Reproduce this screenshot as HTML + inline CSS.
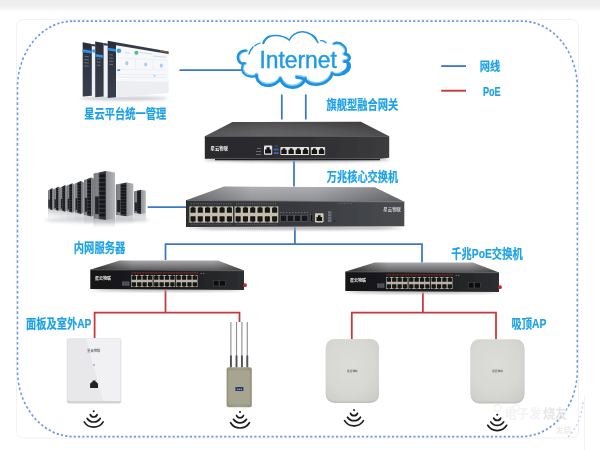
<!DOCTYPE html>
<html><head><meta charset="utf-8"><title>Network topology</title>
<style>
html,body{margin:0;padding:0;background:#fff;}
body{width:600px;height:450px;overflow:hidden;position:relative;font-family:"Liberation Sans",sans-serif;}
#top{position:absolute;left:0;top:0;width:600px;height:13px;background:linear-gradient(#eeeeee 0,#f0f0f0 50%,#fbfbfb 80%,#ffffff 100%);}
svg{position:absolute;left:0;top:0;}
</style></head><body>
<div id="top"></div>
<svg width="600" height="450" viewBox="0 0 600 450">

<defs>
<filter id="soft" x="-5%" y="-5%" width="110%" height="110%"><feGaussianBlur stdDeviation="0.55"/></filter>
<filter id="soft2" x="-5%" y="-5%" width="110%" height="110%"><feGaussianBlur stdDeviation="0.4"/></filter>
<filter id="sh" x="-20%" y="-50%" width="140%" height="200%"><feGaussianBlur stdDeviation="1.6"/></filter>
<linearGradient id="gwTop" x1="0" y1="0" x2="1" y2="0"><stop offset="0" stop-color="#48484a"/><stop offset="0.3" stop-color="#58585a"/><stop offset="0.6" stop-color="#525254"/><stop offset="1" stop-color="#3e3e40"/></linearGradient>
<linearGradient id="gwFront" x1="0" y1="0" x2="1" y2="0"><stop offset="0" stop-color="#2a2a2c"/><stop offset="0.55" stop-color="#2e2e30"/><stop offset="1" stop-color="#3c3c3e"/></linearGradient>
<linearGradient id="csTop" x1="0" y1="0" x2="1" y2="0"><stop offset="0" stop-color="#6a6c70"/><stop offset="0.3" stop-color="#a4a6a9"/><stop offset="0.6" stop-color="#a0a2a5"/><stop offset="1" stop-color="#686a6e"/></linearGradient>
<linearGradient id="csFront" x1="0" y1="0" x2="1" y2="0"><stop offset="0" stop-color="#2f3135"/><stop offset="0.5" stop-color="#37393d"/><stop offset="1" stop-color="#494b4f"/></linearGradient>
<linearGradient id="poeTop" x1="0" y1="0" x2="0" y2="1"><stop offset="0" stop-color="#a8a8aa"/><stop offset="1" stop-color="#58585a"/></linearGradient><linearGradient id="poeShade" x1="0" y1="0" x2="1" y2="0"><stop offset="0" stop-color="#000" stop-opacity="0.55"/><stop offset="0.28" stop-color="#000" stop-opacity="0"/><stop offset="0.8" stop-color="#000" stop-opacity="0"/><stop offset="1" stop-color="#000" stop-opacity="0.3"/></linearGradient><linearGradient id="vShade" x1="0" y1="0" x2="0" y2="1"><stop offset="0" stop-color="#fff" stop-opacity="0.12"/><stop offset="1" stop-color="#000" stop-opacity="0.12"/></linearGradient>
<linearGradient id="poeFront" x1="0" y1="0" x2="1" y2="0"><stop offset="0" stop-color="#151517"/><stop offset="0.6" stop-color="#1f2022"/><stop offset="1" stop-color="#2c2e30"/></linearGradient>
<linearGradient id="apG" x1="0" y1="0" x2="1" y2="1"><stop offset="0" stop-color="#ececea"/><stop offset="1" stop-color="#dededc"/></linearGradient>
<linearGradient id="panelG" x1="0" y1="0" x2="1" y2="1"><stop offset="0" stop-color="#fbfbfc"/><stop offset="1" stop-color="#ececf0"/></linearGradient>
<linearGradient id="srvF" x1="0" y1="0" x2="1" y2="0"><stop offset="0" stop-color="#74777b"/><stop offset="0.35" stop-color="#85878b"/><stop offset="0.5" stop-color="#3a3c40"/><stop offset="0.92" stop-color="#2e3034"/><stop offset="1" stop-color="#55575b"/></linearGradient>
<linearGradient id="srvS" x1="0" y1="0" x2="1" y2="0"><stop offset="0" stop-color="#909296"/><stop offset="1" stop-color="#b4b6b9"/></linearGradient>
<linearGradient id="odG" x1="0" y1="0" x2="1" y2="0"><stop offset="0" stop-color="#97957f"/><stop offset="0.5" stop-color="#a5a38e"/><stop offset="1" stop-color="#93917b"/></linearGradient>
<linearGradient id="dashSide" x1="0" y1="0" x2="0" y2="1"><stop offset="0" stop-color="#2a2e3a"/><stop offset="1" stop-color="#3a3f4c"/></linearGradient>
<radialGradient id="apR" cx="0.45" cy="0.42" r="0.75"><stop offset="0" stop-color="#dcdcd8"/><stop offset="0.6" stop-color="#d7d7d3"/><stop offset="1" stop-color="#cbcbc7"/></radialGradient>
<linearGradient id="srvS2" x1="0" y1="0" x2="1" y2="0"><stop offset="0" stop-color="#606266"/><stop offset="1" stop-color="#a2a4a7"/></linearGradient>
<linearGradient id="refl" x1="0" y1="0" x2="0" y2="1" gradientUnits="objectBoundingBox"><stop offset="0" stop-color="#8a8c90" stop-opacity="0.45"/><stop offset="1" stop-color="#8a8c90" stop-opacity="0"/></linearGradient>
<linearGradient id="vShade2" x1="0" y1="0" x2="0" y2="1"><stop offset="0" stop-color="#000" stop-opacity="0.12"/><stop offset="1" stop-color="#fff" stop-opacity="0.08"/></linearGradient>
<filter id="softU" filterUnits="userSpaceOnUse" x="0" y="0" width="600" height="450"><feGaussianBlur stdDeviation="0.45"/></filter>
</defs>

<rect x="16.5" y="19.5" width="562" height="418.5" rx="7" fill="none" stroke="#f3f3f3" stroke-width="1"/>
<g transform="scale(1 1.186)" filter="url(#soft)"><rect x="17.5" y="17.79" width="559.8" height="350.34" rx="56" ry="56" fill="none" stroke="#6e99e0" stroke-width="1.55" stroke-dasharray="2.2 2.1"/></g>
<g filter="url(#softU)">
<path d="M179.5 70.2 L242 70.2" fill="none" stroke="#3a79c4" stroke-width="1.75"/>
<path d="M281.8 94.5 L281.8 119.5" fill="none" stroke="#3a79c4" stroke-width="1.75"/>
<path d="M305.8 94.5 L305.8 119.5" fill="none" stroke="#3a79c4" stroke-width="1.75"/>
<path d="M294 161 L294 186.5" fill="none" stroke="#3a79c4" stroke-width="1.75"/>
<path d="M147.7 207 L186.5 207" fill="none" stroke="#3a79c4" stroke-width="1.75"/>
<path d="M294.9 227 L294.9 244.2" fill="none" stroke="#3a79c4" stroke-width="1.75"/>
<path d="M165.5 260 L165.5 244.2 L422 244.2 L422 262.5" fill="none" stroke="#3a79c4" stroke-width="1.75"/>
<path d="M165.5 290 L165.5 312.6" fill="none" stroke="#c8363a" stroke-width="1.75"/>
<path d="M94.6 338 L94.6 312.6 L239.5 312.6 L239.5 322" fill="none" stroke="#c8363a" stroke-width="1.75"/>
<path d="M422.9 292.5 L422.9 312.6" fill="none" stroke="#c8363a" stroke-width="1.75"/>
<path d="M351.8 339 L351.8 312.6 L496 312.6 L496 339.3" fill="none" stroke="#c8363a" stroke-width="1.75"/>
<path d="M441.2 66.1 L466 66.1" fill="none" stroke="#3c74c8" stroke-width="1.8"/>
<path d="M441.2 90.7 L466 90.7" fill="none" stroke="#c6383b" stroke-width="1.9"/>
</g>
<g fill="none" stroke-linecap="round" stroke-linejoin="round" filter="url(#soft)"><path d="M245.8 50.6 C241 50 237.2 54 237.9 58.5 C238.4 62 241 64.6 244.6 63.2" stroke="#8fcdf5" stroke-width="2.9" transform="translate(0.9 0.2)"/><path d="M242.8 64.9 C241.4 68 242 72 244.4 74.1 C247 76.8 253 77.6 256.5 75.3" stroke="#8fcdf5" stroke-width="2.6" transform="translate(0.8 -0.7)"/><path d="M256.5 75.3 C256.3 79 258.5 82.3 262 84.2 C268 87 276 85.6 280.3 79" stroke="#8fcdf5" stroke-width="3.3" transform="translate(0 -1.1)"/><path d="M280.3 79 C282.5 84.6 287.5 87.6 293 87.4 C298.5 87.2 303.3 84 305.3 78.7" stroke="#8fcdf5" stroke-width="3.6" transform="translate(0 -1.2)"/><path d="M296.5 77.3 C300.5 77.6 304.2 78.8 306.2 81 C310 85 318 85.6 323.3 83.3 C327.2 81.6 330.8 78 332.3 73.7" stroke="#8fcdf5" stroke-width="3.3" transform="translate(0 -1.1)"/><path d="M332.3 73.5 C334.5 75 338.5 75.4 342 74 C346.5 72.2 349.6 69 349.2 65.5 C349 63.3 347.5 61.8 344.8 61.5" stroke="#8fcdf5" stroke-width="3.1" transform="translate(-0.8 -0.7)"/><path d="M344.8 61.5 C348.3 61 350 59.3 349.6 57.3 C349.2 55.3 347.5 54.2 345 53.8" stroke="#8fcdf5" stroke-width="3.3" transform="translate(-1 0)"/><path d="M345 53.8 C347 51 346 47.5 343.3 45.3 C340.5 42.6 336.5 42.3 334 43.4" stroke="#8fcdf5" stroke-width="2.6" transform="translate(-0.6 0.6)"/><path d="M245.8 50.6 C241 50 237.2 54 237.9 58.5 C238.4 62 241 64.6 244.6 63.2" stroke="#1f93e2" stroke-width="2.3"/><path d="M242.8 64.9 C241.4 68 242 72 244.4 74.1 C247 76.8 253 77.6 256.5 75.3" stroke="#1f93e2" stroke-width="2"/><path d="M256.5 75.3 C256.3 79 258.5 82.3 262 84.2 C268 87 276 85.6 280.3 79" stroke="#1f93e2" stroke-width="2.7"/><path d="M280.3 79 C282.5 84.6 287.5 87.6 293 87.4 C298.5 87.2 303.3 84 305.3 78.7" stroke="#1f93e2" stroke-width="3"/><path d="M296.5 77.3 C300.5 77.6 304.2 78.8 306.2 81 C310 85 318 85.6 323.3 83.3 C327.2 81.6 330.8 78 332.3 73.7" stroke="#1f93e2" stroke-width="2.7"/><path d="M332.3 73.5 C334.5 75 338.5 75.4 342 74 C346.5 72.2 349.6 69 349.2 65.5 C349 63.3 347.5 61.8 344.8 61.5" stroke="#1f93e2" stroke-width="2.5"/><path d="M343.5 73 C347.8 70.6 349.6 67.2 348.6 63.8" stroke="#1f93e2" stroke-width="4.2"/><path d="M344.8 61.5 C348.3 61 350 59.3 349.6 57.3 C349.2 55.3 347.5 54.2 345 53.8" stroke="#1f93e2" stroke-width="2.7"/><path d="M345 53.8 C347 51 346 47.5 343.3 45.3 C340.5 42.6 336.5 42.3 334 43.4" stroke="#1f93e2" stroke-width="2"/><path d="M320.7 40.7 C322.5 40.3 324.5 41.2 326 42.8" stroke="#1f93e2" stroke-width="1.3"/><path d="M312 34.7 C314 35.6 316 37.6 316.7 40" stroke="#1f93e2" stroke-width="1.2"/><path d="M289.3 40 C291 36 296 31.9 302 31.7 C308 31.6 314 35 318 42.7" stroke="#1f93e2" stroke-width="1.5"/><path d="M263.3 43.3 C264.5 39.6 268 36.2 272.7 35.7 C278 35.3 285 36.6 289.3 40" stroke="#1f93e2" stroke-width="1.5"/><path d="M263.3 43.3 C264.3 40 266.5 37.6 269.5 36.4" stroke="#1f93e2" stroke-width="2"/><path d="M249 53.9 C250 50.6 251.5 48.6 253 47" stroke="#1f93e2" stroke-width="1.5"/><path d="M254.6 45.9 C256.5 44.5 258 43.8 260.2 43" stroke="#1f93e2" stroke-width="1.2"/></g>
<text x="259.4" y="67.7" font-family="&quot;Liberation Sans&quot;, sans-serif" font-size="24" textLength="77.5" lengthAdjust="spacingAndGlyphs" fill="#1f9be6" stroke="#1f9be6" stroke-width="0.45" filter="url(#soft2)">Internet</text>
<g filter="url(#soft)"><ellipse cx="124" cy="98.5" rx="44" ry="1.8" fill="#c4c7ce" filter="url(#sh)"/><polygon points="82.7,42.3 95.4,44.5606 95.4,95.4586 82.7,96.5" fill="#eef0f4"/><polygon points="82.7,42.3 91.8,43.9198 91.8,95.7538 82.7,96.5" fill="url(#dashSide)"/><polygon points="82.7,49.3 91.8,50.7198 91.8,53.5198 82.7,52.2" fill="#2e8fe6"/><path d="M84.2 56.3 L88.8 56.7094" stroke="#8b93a6" stroke-width="0.6"/><path d="M84.2 59.5 L88.8 59.9094" stroke="#8b93a6" stroke-width="0.6"/><path d="M84.2 62.7 L88.8 63.1094" stroke="#8b93a6" stroke-width="0.6"/><path d="M84.2 65.9 L88.8 66.3094" stroke="#8b93a6" stroke-width="0.6"/><polygon points="95.2,41.5 107.8,43.7428 107.8,96.2668 95.2,97.3" fill="#eef0f4"/><polygon points="95.2,41.5 103.6,42.9952 103.6,96.6112 95.2,97.3" fill="url(#dashSide)"/><polygon points="95.2,53.9 103.6,55.1952 103.6,57.9952 95.2,56.8" fill="#2e8fe6"/><path d="M96.7 55.5 L100.6 55.8471" stroke="#8b93a6" stroke-width="0.6"/><path d="M96.7 58.7 L100.6 59.0471" stroke="#8b93a6" stroke-width="0.6"/><path d="M96.7 61.9 L100.6 62.2471" stroke="#8b93a6" stroke-width="0.6"/><path d="M96.7 65.1 L100.6 65.4471" stroke="#8b93a6" stroke-width="0.6"/><polygon points="107.7,40.7 168.6,51.5402 168.6,93.0062 107.7,98" fill="#f7f8fa"/><polygon points="107.7,40.7 116,42.1774 116,97.3194 107.7,98" fill="url(#dashSide)"/><polygon points="107.7,47.7 116,48.9774 116,51.7774 107.7,50.6" fill="#2e8fe6"/><path d="M109.2 54.7 L113 55.0382" stroke="#8b93a6" stroke-width="0.6"/><path d="M109.2 57.9 L113 58.2382" stroke="#8b93a6" stroke-width="0.6"/><path d="M109.2 61.1 L113 61.4382" stroke="#8b93a6" stroke-width="0.6"/><path d="M109.2 64.3 L113 64.6382" stroke="#8b93a6" stroke-width="0.6"/><circle cx="93.8" cy="51" r="1.7" fill="#3aa2ea"/><polygon points="91.8,43.9 95.4,44.5 95.4,46.5 91.8,46.1" fill="#343a48"/><polygon points="103.6,43 107.8,43.7 107.8,45.7 103.6,45.2" fill="#343a48"/><polygon points="116,42.1774 168.6,51.5402 168.6,53.9402 116,45.1774" fill="#343a48"/><polygon points="160,50.3094 167.5,51.6444 167.5,52.8444 160,51.6094" fill="#8d6f2a"/><polygon points="116.5,81 168.6,82 168.6,93.0062 116.5,97.2784" fill="#eceef2"/><circle cx="118.9" cy="50.8" r="2.3" fill="#3aa2ea"/><circle cx="136.4" cy="52.8" r="2" fill="#45c47f"/><path d="M139.5 52.3 L152 54 M125 52.6 L130 53.2 M153 56 L166 57.3" stroke="#c5cbd6" stroke-width="0.7"/><path d="M117 57.8 L167.5 60.4 M117 69.3 L167.5 70 M135.5 58.8 L135.5 69.5 M153 59.8 L153 69.8" stroke="#e2e6ec" stroke-width="0.5"/><ellipse cx="126.8" cy="63.2" rx="1.5" ry="2.1" fill="#a9cdee"/><ellipse cx="145.7" cy="64.5" rx="1.5" ry="2.1" fill="#a9cdee"/><ellipse cx="161.3" cy="65.7" rx="1.5" ry="2.1" fill="#a9cdee"/><rect x="117.2" y="69.2" width="3" height="1.8" rx="0.6" fill="#3aa2ea"/><path d="M118 74.3 L166 74.7 M118 77.2 L166 77.5" stroke="#dfe3ea" stroke-width="0.5"/><path d="M153 75.8 L156 75.8" stroke="#7db8ea" stroke-width="0.7"/></g>
<g filter="url(#soft)"><ellipse cx="297" cy="159.5" rx="93" ry="2.2" fill="#9a9a9e" filter="url(#sh)"/><polygon points="232.5,122 360.8,121.8 389.2,136.3 204.8,136.3" fill="url(#gwTop)"/><polygon points="232.5,122 360.8,121.8 389.2,136.3 204.8,136.3" fill="url(#vShade2)"/><polygon points="204.8,136.3 389.2,136.3 389.2,157.8 380,158.8 204.8,158.8" fill="url(#gwFront)"/><path d="M204.8 136.5 L389.2 136.5" stroke="#58585a" stroke-width="0.6"/><path d="M215 159.6 H380" stroke="#1a1a1c" stroke-width="1.2"/><text x="210.6" y="149.6" font-family="&quot;Liberation Sans&quot;, &quot;Noto Sans CJK SC&quot;, sans-serif" font-size="4.4" font-weight="bold" textLength="17.4" lengthAdjust="spacingAndGlyphs" fill="#f2f2f2">星云物联</text><rect x="257" y="148" width="4" height="0.8" fill="#7c7c7c"/><rect x="256" y="151" width="5" height="0.8" fill="#7c7c7c"/><rect x="256" y="154" width="5" height="0.8" fill="#7c7c7c"/><rect x="264" y="145.6" width="8.2" height="9.2" rx="1" fill="#e6e6e3"/><path d="M265 153.6 V149.4 H266.5 V147.2 H269.7 V149.4 H271.2 V153.6 Z" fill="#161616"/><rect x="274.4" y="145.6" width="3.6" height="1" fill="#35579a"/><rect x="273.8" y="148.6" width="4.8" height="1.8" fill="#3a66b4"/><rect x="273.8" y="152.2" width="4.8" height="1.8" fill="#3a66b4"/><rect x="280.4" y="147" width="28.6" height="8" rx="0.8" fill="#e4e2dc"/><path d="M281.30 154.1 V149.8 H282.60 V148.2 H285.40 V149.8 H286.70 V154.1 Z" fill="#141414"/><path d="M288.45 154.1 V149.8 H289.75 V148.2 H292.55 V149.8 H293.85 V154.1 Z" fill="#141414"/><path d="M295.60 154.1 V149.8 H296.90 V148.2 H299.70 V149.8 H301.00 V154.1 Z" fill="#141414"/><path d="M302.75 154.1 V149.8 H304.05 V148.2 H306.85 V149.8 H308.15 V154.1 Z" fill="#141414"/><rect x="310.8" y="147" width="14.3" height="8" rx="0.8" fill="#e4e2dc"/><path d="M311.70 154.1 V149.8 H313.00 V148.2 H315.80 V149.8 H317.10 V154.1 Z" fill="#141414"/><path d="M318.85 154.1 V149.8 H320.15 V148.2 H322.95 V149.8 H324.25 V154.1 Z" fill="#141414"/></g>
<g filter="url(#soft)"><ellipse cx="295" cy="228" rx="108" ry="1.6" fill="#a0a0a4" filter="url(#sh)"/><polygon points="224,186.6 374.8,187.3 404.3,201.8 186.2,200.2" fill="url(#csTop)"/><polygon points="224,186.6 374.8,187.3 404.3,201.8 186.2,200.2" fill="url(#vShade)"/><polygon points="186.2,200.2 404.3,201.8 404.3,226.2 186.2,227" fill="url(#csFront)"/><path d="M186.2 200.5 L404.3 202.1" stroke="#6c7077" stroke-width="0.7"/><path d="M186.6 200.2 V227" stroke="#22252a" stroke-width="1"/><rect x="189.4" y="206.4" width="43.6" height="16.2" fill="#c6bead"/><rect x="190.49" y="207.53" width="5.09" height="5.18" rx="0.5" fill="#131313"/><rect x="191.89" y="206.72" width="2.29" height="0.97" fill="#131313"/><rect x="197.76" y="207.53" width="5.09" height="5.18" rx="0.5" fill="#131313"/><rect x="199.16" y="206.72" width="2.29" height="0.97" fill="#131313"/><rect x="205.02" y="207.53" width="5.09" height="5.18" rx="0.5" fill="#131313"/><rect x="206.42" y="206.72" width="2.29" height="0.97" fill="#131313"/><rect x="212.29" y="207.53" width="5.09" height="5.18" rx="0.5" fill="#131313"/><rect x="213.69" y="206.72" width="2.29" height="0.97" fill="#131313"/><rect x="219.56" y="207.53" width="5.09" height="5.18" rx="0.5" fill="#131313"/><rect x="220.96" y="206.72" width="2.29" height="0.97" fill="#131313"/><rect x="226.82" y="207.53" width="5.09" height="5.18" rx="0.5" fill="#131313"/><rect x="228.22" y="206.72" width="2.29" height="0.97" fill="#131313"/><rect x="190.49" y="216.28" width="5.09" height="5.18" rx="0.5" fill="#131313"/><rect x="191.89" y="221.45" width="2.29" height="0.81" fill="#131313"/><rect x="197.76" y="216.28" width="5.09" height="5.18" rx="0.5" fill="#131313"/><rect x="199.16" y="221.45" width="2.29" height="0.81" fill="#131313"/><rect x="205.02" y="216.28" width="5.09" height="5.18" rx="0.5" fill="#131313"/><rect x="206.42" y="221.45" width="2.29" height="0.81" fill="#131313"/><rect x="212.29" y="216.28" width="5.09" height="5.18" rx="0.5" fill="#131313"/><rect x="213.69" y="221.45" width="2.29" height="0.81" fill="#131313"/><rect x="219.56" y="216.28" width="5.09" height="5.18" rx="0.5" fill="#131313"/><rect x="220.96" y="221.45" width="2.29" height="0.81" fill="#131313"/><rect x="226.82" y="216.28" width="5.09" height="5.18" rx="0.5" fill="#131313"/><rect x="228.22" y="221.45" width="2.29" height="0.81" fill="#131313"/><rect x="234.5" y="206.4" width="43.8" height="16.2" fill="#c6bead"/><rect x="235.59" y="207.53" width="5.11" height="5.18" rx="0.5" fill="#131313"/><rect x="237.00" y="206.72" width="2.30" height="0.97" fill="#131313"/><rect x="242.90" y="207.53" width="5.11" height="5.18" rx="0.5" fill="#131313"/><rect x="244.30" y="206.72" width="2.30" height="0.97" fill="#131313"/><rect x="250.19" y="207.53" width="5.11" height="5.18" rx="0.5" fill="#131313"/><rect x="251.60" y="206.72" width="2.30" height="0.97" fill="#131313"/><rect x="257.50" y="207.53" width="5.11" height="5.18" rx="0.5" fill="#131313"/><rect x="258.90" y="206.72" width="2.30" height="0.97" fill="#131313"/><rect x="264.80" y="207.53" width="5.11" height="5.18" rx="0.5" fill="#131313"/><rect x="266.20" y="206.72" width="2.30" height="0.97" fill="#131313"/><rect x="272.10" y="207.53" width="5.11" height="5.18" rx="0.5" fill="#131313"/><rect x="273.50" y="206.72" width="2.30" height="0.97" fill="#131313"/><rect x="235.59" y="216.28" width="5.11" height="5.18" rx="0.5" fill="#131313"/><rect x="237.00" y="221.45" width="2.30" height="0.81" fill="#131313"/><rect x="242.90" y="216.28" width="5.11" height="5.18" rx="0.5" fill="#131313"/><rect x="244.30" y="221.45" width="2.30" height="0.81" fill="#131313"/><rect x="250.19" y="216.28" width="5.11" height="5.18" rx="0.5" fill="#131313"/><rect x="251.60" y="221.45" width="2.30" height="0.81" fill="#131313"/><rect x="257.50" y="216.28" width="5.11" height="5.18" rx="0.5" fill="#131313"/><rect x="258.90" y="221.45" width="2.30" height="0.81" fill="#131313"/><rect x="264.80" y="216.28" width="5.11" height="5.18" rx="0.5" fill="#131313"/><rect x="266.20" y="221.45" width="2.30" height="0.81" fill="#131313"/><rect x="272.10" y="216.28" width="5.11" height="5.18" rx="0.5" fill="#131313"/><rect x="273.50" y="221.45" width="2.30" height="0.81" fill="#131313"/><path d="M191 203.8 H232 M236 203.8 H277" stroke="#7d8188" stroke-width="0.7" stroke-dasharray="1.2 1.1"/><path d="M191 224.6 H232 M236 224.6 H277" stroke="#6a6e75" stroke-width="0.6" stroke-dasharray="1.2 1.1"/><rect x="280.30" y="215.2" width="6.2" height="6.2" fill="#15171a" stroke="#6b6f76" stroke-width="0.5"/><rect x="287.40" y="215.2" width="6.2" height="6.2" fill="#15171a" stroke="#6b6f76" stroke-width="0.5"/><rect x="294.50" y="215.2" width="6.2" height="6.2" fill="#15171a" stroke="#6b6f76" stroke-width="0.5"/><rect x="301.60" y="215.2" width="6.2" height="6.2" fill="#15171a" stroke="#6b6f76" stroke-width="0.5"/><path d="M280 212.5 H308" stroke="#888c93" stroke-width="0.6" stroke-dasharray="1.5 1.5"/><rect x="310.6" y="214.5" width="2.2" height="7" fill="#0f1012" stroke="#777" stroke-width="0.3"/><rect x="315" y="213.2" width="8.6" height="9.2" rx="0.8" fill="#cfc8b4"/><path d="M316.5 221 V217 H318 V215.2 H320.6 V217 H322.1 V221 Z" fill="#151515"/><rect x="328" y="211.3" width="3.4" height="10.5" fill="#6f737a"/><path d="M328 213.9 H331.4 M328 216.5 H331.4 M328 219.1 H331.4" stroke="#3a3d44" stroke-width="0.6"/><circle cx="334.5" cy="221" r="0.7" fill="#16181b"/><path d="M338 203.5 H352" stroke="#5d6168" stroke-width="0.7" stroke-dasharray="2 1"/><text x="383.3" y="211.1" font-family="&quot;Liberation Sans&quot;, &quot;Noto Sans CJK SC&quot;, sans-serif" font-size="4.4" font-weight="bold" textLength="17.7" lengthAdjust="spacingAndGlyphs" fill="#c9ccd0">星云物联</text></g>
<g filter="url(#soft)" transform="translate(0 0)"><ellipse cx="167" cy="289.8" rx="76" ry="1.5" fill="#a8a8ac" filter="url(#sh)"/><polygon points="119.7,260.6 218,260.6 244,270.6 90.3,269.7" fill="url(#poeTop)"/><polygon points="119.7,260.6 218,260.6 244,270.6 90.3,269.7" fill="url(#poeShade)"/><polygon points="90.3,269.7 244,270.6 244,290 90.3,289" fill="url(#poeFront)"/><path d="M90.3 269.9 L244 270.8" stroke="#5c5c5e" stroke-width="0.6"/><text x="94.9" y="280" font-family="&quot;Liberation Sans&quot;, &quot;Noto Sans CJK SC&quot;, sans-serif" font-size="4" font-weight="bold" textLength="16.1" lengthAdjust="spacingAndGlyphs" fill="#ededed">星云物联</text><rect x="122.2" y="281.4" width="7.2" height="4.4" fill="#59595b"/><path d="M124.6 281.4 V285.8 M127 281.4 V285.8" stroke="#2a2a2c" stroke-width="0.5"/><path d="M131.5 272.9 H198" stroke="#7c2729" stroke-width="1.3" stroke-dasharray="2 0.6"/><rect x="131.2" y="275" width="21.5" height="12" fill="#b9b3a5"/><rect x="131.74" y="275.84" width="4.30" height="3.84" rx="0.5" fill="#131313"/><rect x="132.92" y="275.24" width="1.94" height="0.72" fill="#131313"/><rect x="137.11" y="275.84" width="4.30" height="3.84" rx="0.5" fill="#131313"/><rect x="138.29" y="275.24" width="1.94" height="0.72" fill="#131313"/><rect x="142.49" y="275.84" width="4.30" height="3.84" rx="0.5" fill="#131313"/><rect x="143.67" y="275.24" width="1.94" height="0.72" fill="#131313"/><rect x="147.86" y="275.84" width="4.30" height="3.84" rx="0.5" fill="#131313"/><rect x="149.04" y="275.24" width="1.94" height="0.72" fill="#131313"/><rect x="131.74" y="282.32" width="4.30" height="3.84" rx="0.5" fill="#131313"/><rect x="132.92" y="286.14" width="1.94" height="0.60" fill="#131313"/><rect x="137.11" y="282.32" width="4.30" height="3.84" rx="0.5" fill="#131313"/><rect x="138.29" y="286.14" width="1.94" height="0.60" fill="#131313"/><rect x="142.49" y="282.32" width="4.30" height="3.84" rx="0.5" fill="#131313"/><rect x="143.67" y="286.14" width="1.94" height="0.60" fill="#131313"/><rect x="147.86" y="282.32" width="4.30" height="3.84" rx="0.5" fill="#131313"/><rect x="149.04" y="286.14" width="1.94" height="0.60" fill="#131313"/><rect x="153.6" y="275" width="21.5" height="12" fill="#b9b3a5"/><rect x="154.14" y="275.84" width="4.30" height="3.84" rx="0.5" fill="#131313"/><rect x="155.32" y="275.24" width="1.94" height="0.72" fill="#131313"/><rect x="159.51" y="275.84" width="4.30" height="3.84" rx="0.5" fill="#131313"/><rect x="160.69" y="275.24" width="1.94" height="0.72" fill="#131313"/><rect x="164.89" y="275.84" width="4.30" height="3.84" rx="0.5" fill="#131313"/><rect x="166.07" y="275.24" width="1.94" height="0.72" fill="#131313"/><rect x="170.26" y="275.84" width="4.30" height="3.84" rx="0.5" fill="#131313"/><rect x="171.44" y="275.24" width="1.94" height="0.72" fill="#131313"/><rect x="154.14" y="282.32" width="4.30" height="3.84" rx="0.5" fill="#131313"/><rect x="155.32" y="286.14" width="1.94" height="0.60" fill="#131313"/><rect x="159.51" y="282.32" width="4.30" height="3.84" rx="0.5" fill="#131313"/><rect x="160.69" y="286.14" width="1.94" height="0.60" fill="#131313"/><rect x="164.89" y="282.32" width="4.30" height="3.84" rx="0.5" fill="#131313"/><rect x="166.07" y="286.14" width="1.94" height="0.60" fill="#131313"/><rect x="170.26" y="282.32" width="4.30" height="3.84" rx="0.5" fill="#131313"/><rect x="171.44" y="286.14" width="1.94" height="0.60" fill="#131313"/><rect x="176" y="275" width="21.5" height="12" fill="#b9b3a5"/><rect x="176.54" y="275.84" width="4.30" height="3.84" rx="0.5" fill="#131313"/><rect x="177.72" y="275.24" width="1.94" height="0.72" fill="#131313"/><rect x="181.91" y="275.84" width="4.30" height="3.84" rx="0.5" fill="#131313"/><rect x="183.09" y="275.24" width="1.94" height="0.72" fill="#131313"/><rect x="187.29" y="275.84" width="4.30" height="3.84" rx="0.5" fill="#131313"/><rect x="188.47" y="275.24" width="1.94" height="0.72" fill="#131313"/><rect x="192.66" y="275.84" width="4.30" height="3.84" rx="0.5" fill="#131313"/><rect x="193.84" y="275.24" width="1.94" height="0.72" fill="#131313"/><rect x="176.54" y="282.32" width="4.30" height="3.84" rx="0.5" fill="#131313"/><rect x="177.72" y="286.14" width="1.94" height="0.60" fill="#131313"/><rect x="181.91" y="282.32" width="4.30" height="3.84" rx="0.5" fill="#131313"/><rect x="183.09" y="286.14" width="1.94" height="0.60" fill="#131313"/><rect x="187.29" y="282.32" width="4.30" height="3.84" rx="0.5" fill="#131313"/><rect x="188.47" y="286.14" width="1.94" height="0.60" fill="#131313"/><rect x="192.66" y="282.32" width="4.30" height="3.84" rx="0.5" fill="#131313"/><rect x="193.84" y="286.14" width="1.94" height="0.60" fill="#131313"/><rect x="213.3" y="280.4" width="5.6" height="5.6" fill="#0c0c0d" stroke="#4c4e50" stroke-width="0.5"/><rect x="219.8" y="280.4" width="5.6" height="5.6" fill="#0c0c0d" stroke="#4c4e50" stroke-width="0.5"/><circle cx="201.2" cy="273.4" r="0.55" fill="#8a8a8a"/><circle cx="203.8" cy="273.4" r="0.55" fill="#8a8a8a"/><rect x="243.2" y="283.2" width="3.6" height="3.8" rx="1.6" fill="#c8282a"/></g>
<g filter="url(#soft)" transform="translate(255 2)"><ellipse cx="167" cy="289.8" rx="76" ry="1.5" fill="#a8a8ac" filter="url(#sh)"/><polygon points="119.7,260.6 218,260.6 244,270.6 90.3,269.7" fill="url(#poeTop)"/><polygon points="119.7,260.6 218,260.6 244,270.6 90.3,269.7" fill="url(#poeShade)"/><polygon points="90.3,269.7 244,270.6 244,290 90.3,289" fill="url(#poeFront)"/><path d="M90.3 269.9 L244 270.8" stroke="#5c5c5e" stroke-width="0.6"/><text x="94.9" y="280" font-family="&quot;Liberation Sans&quot;, &quot;Noto Sans CJK SC&quot;, sans-serif" font-size="4" font-weight="bold" textLength="16.1" lengthAdjust="spacingAndGlyphs" fill="#ededed">星云物联</text><rect x="122.2" y="281.4" width="7.2" height="4.4" fill="#59595b"/><path d="M124.6 281.4 V285.8 M127 281.4 V285.8" stroke="#2a2a2c" stroke-width="0.5"/><path d="M131.5 272.9 H198" stroke="#7c2729" stroke-width="1.3" stroke-dasharray="2 0.6"/><rect x="131.2" y="275" width="21.5" height="12" fill="#b9b3a5"/><rect x="131.74" y="275.84" width="4.30" height="3.84" rx="0.5" fill="#131313"/><rect x="132.92" y="275.24" width="1.94" height="0.72" fill="#131313"/><rect x="137.11" y="275.84" width="4.30" height="3.84" rx="0.5" fill="#131313"/><rect x="138.29" y="275.24" width="1.94" height="0.72" fill="#131313"/><rect x="142.49" y="275.84" width="4.30" height="3.84" rx="0.5" fill="#131313"/><rect x="143.67" y="275.24" width="1.94" height="0.72" fill="#131313"/><rect x="147.86" y="275.84" width="4.30" height="3.84" rx="0.5" fill="#131313"/><rect x="149.04" y="275.24" width="1.94" height="0.72" fill="#131313"/><rect x="131.74" y="282.32" width="4.30" height="3.84" rx="0.5" fill="#131313"/><rect x="132.92" y="286.14" width="1.94" height="0.60" fill="#131313"/><rect x="137.11" y="282.32" width="4.30" height="3.84" rx="0.5" fill="#131313"/><rect x="138.29" y="286.14" width="1.94" height="0.60" fill="#131313"/><rect x="142.49" y="282.32" width="4.30" height="3.84" rx="0.5" fill="#131313"/><rect x="143.67" y="286.14" width="1.94" height="0.60" fill="#131313"/><rect x="147.86" y="282.32" width="4.30" height="3.84" rx="0.5" fill="#131313"/><rect x="149.04" y="286.14" width="1.94" height="0.60" fill="#131313"/><rect x="153.6" y="275" width="21.5" height="12" fill="#b9b3a5"/><rect x="154.14" y="275.84" width="4.30" height="3.84" rx="0.5" fill="#131313"/><rect x="155.32" y="275.24" width="1.94" height="0.72" fill="#131313"/><rect x="159.51" y="275.84" width="4.30" height="3.84" rx="0.5" fill="#131313"/><rect x="160.69" y="275.24" width="1.94" height="0.72" fill="#131313"/><rect x="164.89" y="275.84" width="4.30" height="3.84" rx="0.5" fill="#131313"/><rect x="166.07" y="275.24" width="1.94" height="0.72" fill="#131313"/><rect x="170.26" y="275.84" width="4.30" height="3.84" rx="0.5" fill="#131313"/><rect x="171.44" y="275.24" width="1.94" height="0.72" fill="#131313"/><rect x="154.14" y="282.32" width="4.30" height="3.84" rx="0.5" fill="#131313"/><rect x="155.32" y="286.14" width="1.94" height="0.60" fill="#131313"/><rect x="159.51" y="282.32" width="4.30" height="3.84" rx="0.5" fill="#131313"/><rect x="160.69" y="286.14" width="1.94" height="0.60" fill="#131313"/><rect x="164.89" y="282.32" width="4.30" height="3.84" rx="0.5" fill="#131313"/><rect x="166.07" y="286.14" width="1.94" height="0.60" fill="#131313"/><rect x="170.26" y="282.32" width="4.30" height="3.84" rx="0.5" fill="#131313"/><rect x="171.44" y="286.14" width="1.94" height="0.60" fill="#131313"/><rect x="176" y="275" width="21.5" height="12" fill="#b9b3a5"/><rect x="176.54" y="275.84" width="4.30" height="3.84" rx="0.5" fill="#131313"/><rect x="177.72" y="275.24" width="1.94" height="0.72" fill="#131313"/><rect x="181.91" y="275.84" width="4.30" height="3.84" rx="0.5" fill="#131313"/><rect x="183.09" y="275.24" width="1.94" height="0.72" fill="#131313"/><rect x="187.29" y="275.84" width="4.30" height="3.84" rx="0.5" fill="#131313"/><rect x="188.47" y="275.24" width="1.94" height="0.72" fill="#131313"/><rect x="192.66" y="275.84" width="4.30" height="3.84" rx="0.5" fill="#131313"/><rect x="193.84" y="275.24" width="1.94" height="0.72" fill="#131313"/><rect x="176.54" y="282.32" width="4.30" height="3.84" rx="0.5" fill="#131313"/><rect x="177.72" y="286.14" width="1.94" height="0.60" fill="#131313"/><rect x="181.91" y="282.32" width="4.30" height="3.84" rx="0.5" fill="#131313"/><rect x="183.09" y="286.14" width="1.94" height="0.60" fill="#131313"/><rect x="187.29" y="282.32" width="4.30" height="3.84" rx="0.5" fill="#131313"/><rect x="188.47" y="286.14" width="1.94" height="0.60" fill="#131313"/><rect x="192.66" y="282.32" width="4.30" height="3.84" rx="0.5" fill="#131313"/><rect x="193.84" y="286.14" width="1.94" height="0.60" fill="#131313"/><rect x="213.3" y="280.4" width="5.6" height="5.6" fill="#0c0c0d" stroke="#4c4e50" stroke-width="0.5"/><rect x="219.8" y="280.4" width="5.6" height="5.6" fill="#0c0c0d" stroke="#4c4e50" stroke-width="0.5"/><circle cx="201.2" cy="273.4" r="0.55" fill="#8a8a8a"/><circle cx="203.8" cy="273.4" r="0.55" fill="#8a8a8a"/><rect x="243.2" y="283.2" width="3.6" height="3.8" rx="1.6" fill="#c8282a"/></g>
<g filter="url(#soft)"><ellipse cx="97" cy="220" rx="52" ry="3" fill="#d9dbde" filter="url(#sh)"/><polygon points="134,213.1 141,214 145.8,213.28 145.8,221 134,222" fill="url(#refl)"/><polygon points="141,189.8 145.8,190.7 145.8,213.28 141,214" fill="url(#srvS)"/><polygon points="134,191.24 141,189.8 141,214 134,213.1" fill="url(#srvF)"/><rect x="137.22" y="191.57" width="3.36" height="1.43" fill="#17181b"/><rect x="137.22" y="193.70" width="3.36" height="1.43" fill="#17181b"/><rect x="137.22" y="195.84" width="3.36" height="1.43" fill="#17181b"/><rect x="137.22" y="197.98" width="3.36" height="1.43" fill="#17181b"/><rect x="137.22" y="200.11" width="3.36" height="1.43" fill="#17181b"/><rect x="137.22" y="202.25" width="3.36" height="1.43" fill="#17181b"/><rect x="137.22" y="204.39" width="3.36" height="1.43" fill="#17181b"/><rect x="137.22" y="206.52" width="3.36" height="1.43" fill="#17181b"/><rect x="137.22" y="208.66" width="3.36" height="1.43" fill="#17181b"/><rect x="137.22" y="210.80" width="3.36" height="1.43" fill="#17181b"/><rect x="134.84" y="202.38" width="2.10" height="8.71" fill="#24262a"/><polygon points="115.8,214.9 126.8,216.2 133.4,215.16 133.4,223.2 115.8,224.2" fill="url(#refl)"/><polygon points="126.8,182.4 133.4,183.7 133.4,215.16 126.8,216.2" fill="url(#srvS)"/><polygon points="115.8,184.48 126.8,182.4 126.8,216.2 115.8,214.9" fill="url(#srvF)"/><rect x="120.86" y="184.88" width="5.28" height="1.99" fill="#17181b"/><rect x="120.86" y="187.86" width="5.28" height="1.99" fill="#17181b"/><rect x="120.86" y="190.84" width="5.28" height="1.99" fill="#17181b"/><rect x="120.86" y="193.83" width="5.28" height="1.99" fill="#17181b"/><rect x="120.86" y="196.81" width="5.28" height="1.99" fill="#17181b"/><rect x="120.86" y="199.79" width="5.28" height="1.99" fill="#17181b"/><rect x="120.86" y="202.78" width="5.28" height="1.99" fill="#17181b"/><rect x="120.86" y="205.76" width="5.28" height="1.99" fill="#17181b"/><rect x="120.86" y="208.74" width="5.28" height="1.99" fill="#17181b"/><rect x="120.86" y="211.73" width="5.28" height="1.99" fill="#17181b"/><rect x="117.12" y="199.98" width="3.30" height="12.17" fill="#24262a"/><polygon points="48,208.8 52.4,210.3 54,209.1 54,217.3 48,218.3" fill="url(#refl)"/><polygon points="52.4,188 54,189.5 54,209.1 52.4,210.3" fill="url(#srvS2)"/><polygon points="48,190.4 52.4,188 52.4,210.3 48,208.8" fill="url(#srvF)"/><rect x="50.02" y="189.82" width="2.11" height="1.31" fill="#17181b"/><rect x="50.02" y="191.77" width="2.11" height="1.31" fill="#17181b"/><rect x="50.02" y="193.72" width="2.11" height="1.31" fill="#17181b"/><rect x="50.02" y="195.67" width="2.11" height="1.31" fill="#17181b"/><rect x="50.02" y="197.62" width="2.11" height="1.31" fill="#17181b"/><rect x="50.02" y="199.57" width="2.11" height="1.31" fill="#17181b"/><rect x="50.02" y="201.52" width="2.11" height="1.31" fill="#17181b"/><rect x="50.02" y="203.47" width="2.11" height="1.31" fill="#17181b"/><rect x="50.02" y="205.42" width="2.11" height="1.31" fill="#17181b"/><rect x="50.02" y="207.37" width="2.11" height="1.31" fill="#17181b"/><rect x="48.53" y="199.60" width="1.32" height="8.03" fill="#24262a"/><polygon points="54,209.5 58.6,211 60.4,209.8 60.4,218 54,219" fill="url(#refl)"/><polygon points="58.6,186.6 60.4,188.1 60.4,209.8 58.6,211" fill="url(#srvS2)"/><polygon points="54,189 58.6,186.6 58.6,211 54,209.5" fill="url(#srvF)"/><rect x="56.12" y="188.55" width="2.21" height="1.44" fill="#17181b"/><rect x="56.12" y="190.69" width="2.21" height="1.44" fill="#17181b"/><rect x="56.12" y="192.82" width="2.21" height="1.44" fill="#17181b"/><rect x="56.12" y="194.96" width="2.21" height="1.44" fill="#17181b"/><rect x="56.12" y="197.10" width="2.21" height="1.44" fill="#17181b"/><rect x="56.12" y="199.24" width="2.21" height="1.44" fill="#17181b"/><rect x="56.12" y="201.38" width="2.21" height="1.44" fill="#17181b"/><rect x="56.12" y="203.52" width="2.21" height="1.44" fill="#17181b"/><rect x="56.12" y="205.65" width="2.21" height="1.44" fill="#17181b"/><rect x="56.12" y="207.79" width="2.21" height="1.44" fill="#17181b"/><rect x="54.55" y="199.29" width="1.38" height="8.78" fill="#24262a"/><polygon points="60.2,210.3 65.2,211.8 67.2,210.6 67.2,218.8 60.2,219.8" fill="url(#refl)"/><polygon points="65.2,185 67.2,186.5 67.2,210.6 65.2,211.8" fill="url(#srvS2)"/><polygon points="60.2,187.4 65.2,185 65.2,211.8 60.2,210.3" fill="url(#srvF)"/><rect x="62.50" y="187.10" width="2.40" height="1.58" fill="#17181b"/><rect x="62.50" y="189.45" width="2.40" height="1.58" fill="#17181b"/><rect x="62.50" y="191.80" width="2.40" height="1.58" fill="#17181b"/><rect x="62.50" y="194.15" width="2.40" height="1.58" fill="#17181b"/><rect x="62.50" y="196.51" width="2.40" height="1.58" fill="#17181b"/><rect x="62.50" y="198.86" width="2.40" height="1.58" fill="#17181b"/><rect x="62.50" y="201.21" width="2.40" height="1.58" fill="#17181b"/><rect x="62.50" y="203.57" width="2.40" height="1.58" fill="#17181b"/><rect x="62.50" y="205.92" width="2.40" height="1.58" fill="#17181b"/><rect x="62.50" y="208.27" width="2.40" height="1.58" fill="#17181b"/><rect x="60.80" y="198.94" width="1.50" height="9.65" fill="#24262a"/><polygon points="67,211.3 72.4,212.8 74.8,211.6 74.8,219.8 67,220.8" fill="url(#refl)"/><polygon points="72.4,183.2 74.8,184.7 74.8,211.6 72.4,212.8" fill="url(#srvS2)"/><polygon points="67,185.6 72.4,183.2 72.4,212.8 67,211.3" fill="url(#srvF)"/><rect x="69.48" y="185.47" width="2.59" height="1.74" fill="#17181b"/><rect x="69.48" y="188.07" width="2.59" height="1.74" fill="#17181b"/><rect x="69.48" y="190.68" width="2.59" height="1.74" fill="#17181b"/><rect x="69.48" y="193.28" width="2.59" height="1.74" fill="#17181b"/><rect x="69.48" y="195.88" width="2.59" height="1.74" fill="#17181b"/><rect x="69.48" y="198.49" width="2.59" height="1.74" fill="#17181b"/><rect x="69.48" y="201.09" width="2.59" height="1.74" fill="#17181b"/><rect x="69.48" y="203.69" width="2.59" height="1.74" fill="#17181b"/><rect x="69.48" y="206.29" width="2.59" height="1.74" fill="#17181b"/><rect x="69.48" y="208.90" width="2.59" height="1.74" fill="#17181b"/><rect x="67.65" y="198.59" width="1.62" height="10.66" fill="#24262a"/><polygon points="74.8,212.5 81,214 84,212.8 84,221 74.8,222" fill="url(#refl)"/><polygon points="81,181 84,182.5 84,212.8 81,214" fill="url(#srvS2)"/><polygon points="74.8,183.4 81,181 81,214 74.8,212.5" fill="url(#srvF)"/><rect x="77.65" y="183.48" width="2.98" height="1.94" fill="#17181b"/><rect x="77.65" y="186.39" width="2.98" height="1.94" fill="#17181b"/><rect x="77.65" y="189.30" width="2.98" height="1.94" fill="#17181b"/><rect x="77.65" y="192.20" width="2.98" height="1.94" fill="#17181b"/><rect x="77.65" y="195.11" width="2.98" height="1.94" fill="#17181b"/><rect x="77.65" y="198.02" width="2.98" height="1.94" fill="#17181b"/><rect x="77.65" y="200.92" width="2.98" height="1.94" fill="#17181b"/><rect x="77.65" y="203.83" width="2.98" height="1.94" fill="#17181b"/><rect x="77.65" y="206.73" width="2.98" height="1.94" fill="#17181b"/><rect x="77.65" y="209.64" width="2.98" height="1.94" fill="#17181b"/><rect x="75.54" y="198.16" width="1.86" height="11.88" fill="#24262a"/><polygon points="84,215 91.4,216.5 94.8,215.3 94.8,223.5 84,224.5" fill="url(#refl)"/><polygon points="91.4,177.5 94.8,179 94.8,215.3 91.4,216.5" fill="url(#srvS2)"/><polygon points="84,179.9 91.4,177.5 91.4,216.5 84,215" fill="url(#srvF)"/><rect x="87.40" y="180.36" width="3.55" height="2.30" fill="#17181b"/><rect x="87.40" y="183.80" width="3.55" height="2.30" fill="#17181b"/><rect x="87.40" y="187.24" width="3.55" height="2.30" fill="#17181b"/><rect x="87.40" y="190.69" width="3.55" height="2.30" fill="#17181b"/><rect x="87.40" y="194.13" width="3.55" height="2.30" fill="#17181b"/><rect x="87.40" y="197.57" width="3.55" height="2.30" fill="#17181b"/><rect x="87.40" y="201.01" width="3.55" height="2.30" fill="#17181b"/><rect x="87.40" y="204.45" width="3.55" height="2.30" fill="#17181b"/><rect x="87.40" y="207.90" width="3.55" height="2.30" fill="#17181b"/><rect x="87.40" y="211.34" width="3.55" height="2.30" fill="#17181b"/><rect x="84.89" y="197.78" width="2.22" height="14.04" fill="#24262a"/><polygon points="93.6,218.5 106,220 115,218.8 115,227 93.6,228" fill="url(#refl)"/><polygon points="106,171 115,172.5 115,218.8 106,220" fill="url(#srvS)"/><polygon points="93.6,173.4 106,171 106,220 93.6,218.5" fill="url(#srvF)"/><rect x="99.30" y="174.48" width="5.95" height="2.89" fill="#17181b"/><rect x="99.30" y="178.82" width="5.95" height="2.89" fill="#17181b"/><rect x="99.30" y="183.15" width="5.95" height="2.89" fill="#17181b"/><rect x="99.30" y="187.49" width="5.95" height="2.89" fill="#17181b"/><rect x="99.30" y="191.82" width="5.95" height="2.89" fill="#17181b"/><rect x="99.30" y="196.16" width="5.95" height="2.89" fill="#17181b"/><rect x="99.30" y="200.49" width="5.95" height="2.89" fill="#17181b"/><rect x="99.30" y="204.83" width="5.95" height="2.89" fill="#17181b"/><rect x="99.30" y="209.16" width="5.95" height="2.89" fill="#17181b"/><rect x="99.30" y="213.50" width="5.95" height="2.89" fill="#17181b"/><rect x="95.09" y="196.48" width="3.72" height="17.64" fill="#24262a"/></g>
<g filter="url(#soft)"><rect x="67" y="338.5" width="54.1" height="65" rx="2" fill="#d3d3d6"/><rect x="67" y="338.5" width="54.1" height="62.6" rx="2" fill="#e8e8ea"/><polygon points="86,338.5 121.1,338.5 121.1,401 103.2,401" fill="#f1f1f3"/><path d="M67.3 339 V402.5 M120.8 339 V402.5" stroke="#dadadd" stroke-width="0.7"/><text x="87.3" y="352.4" font-family="&quot;Liberation Sans&quot;, &quot;Noto Sans CJK SC&quot;, sans-serif" font-size="3.2" font-weight="bold" textLength="13" lengthAdjust="spacingAndGlyphs" fill="#6c6c70">星云物联</text><circle cx="94" cy="364.9" r="0.75" fill="#5b74e0"/><path d="M90.1 388 V383.3 H91.4 V382 H92.6 V380.5 H95.6 V382 H96.8 V383.3 H98 V388 Z" fill="#222224"/></g>
<g filter="url(#soft2)"><path d="M230.9 322 V367.5" stroke="#8e9196" stroke-width="1.15"/><path d="M230.9 355.5 V367.5" stroke="#505257" stroke-width="1.9"/><path d="M236.5 322 V367.5" stroke="#8e9196" stroke-width="1.15"/><path d="M236.5 355.5 V367.5" stroke="#505257" stroke-width="1.9"/><path d="M241.9 322 V367.5" stroke="#8e9196" stroke-width="1.15"/><path d="M241.9 355.5 V367.5" stroke="#505257" stroke-width="1.9"/><path d="M247.3 322 V367.5" stroke="#8e9196" stroke-width="1.15"/><path d="M247.3 355.5 V367.5" stroke="#505257" stroke-width="1.9"/><rect x="226.6" y="367.3" width="25.2" height="40" rx="2" fill="url(#odG)"/><rect x="228" y="369.8" width="22.4" height="35.2" rx="1.5" fill="#a7a590" stroke="#8f8d78" stroke-width="0.5"/><rect x="235.4" y="387" width="8" height="4" fill="#2b3d68"/><path d="M237 389.3 H242" stroke="#b9c3da" stroke-width="1" stroke-dasharray="1.4 0.6"/></g>
<g filter="url(#soft)"><rect x="325.8" y="339.7" width="53.2" height="63.2" rx="8.5" fill="#c2c2be"/><rect x="325.8" y="338.9" width="53.2" height="62.4" rx="8.5" fill="url(#apR)"/><text x="347.1" y="371.5" font-family="&quot;Liberation Sans&quot;, &quot;Noto Sans CJK SC&quot;, sans-serif" font-size="2.6" font-weight="bold" textLength="10.6" lengthAdjust="spacingAndGlyphs" fill="#6e6e72">星云物联</text></g>
<g filter="url(#soft)"><rect x="470.6" y="340" width="53.8" height="63.4" rx="8.5" fill="#c2c2be"/><rect x="470.6" y="339.2" width="53.8" height="62.6" rx="8.5" fill="url(#apR)"/><text x="492.2" y="371.9" font-family="&quot;Liberation Sans&quot;, &quot;Noto Sans CJK SC&quot;, sans-serif" font-size="2.6" font-weight="bold" textLength="10.6" lengthAdjust="spacingAndGlyphs" fill="#6e6e72">星云物联</text></g>
<g filter="url(#soft)"><text x="504.6" y="417.7" font-family="&quot;Liberation Sans&quot;, &quot;Noto Sans CJK SC&quot;, sans-serif" font-size="13" font-weight="bold" textLength="36.8" lengthAdjust="spacingAndGlyphs" fill="#f3f3f3">电子发</text><text x="543.1" y="417.7" font-family="&quot;Liberation Sans&quot;, &quot;Noto Sans CJK SC&quot;, sans-serif" font-size="13" font-weight="bold" textLength="24.2" lengthAdjust="spacingAndGlyphs" fill="#e6e6e6">烧友</text><circle cx="497.5" cy="408" r="3.4" fill="none" stroke="#f1f1f1" stroke-width="1.2"/><circle cx="516" cy="408" r="3.2" fill="none" stroke="#f1f1f1" stroke-width="1.2"/><text x="555.8" y="432.7" font-family="&quot;Liberation Sans&quot;, &quot;Noto Sans CJK SC&quot;, sans-serif" font-size="7.8" font-weight="bold" textLength="15.4" lengthAdjust="spacingAndGlyphs" fill="#ededed">发烧</text><path d="M583 402 Q581 424 568 437" fill="none" stroke="#a3c0ec" stroke-width="1.3" stroke-dasharray="2 2.6" opacity="0.7"/><path d="M584.5 396 V450" stroke="#f0f0f0" stroke-width="0.8"/></g>
<g fill="none" stroke="#1e1e1e" stroke-width="1.7" stroke-linecap="round" filter="url(#soft2)"><circle cx="93.7" cy="411.3" r="1" fill="#1e1e1e" stroke="none"/><path d="M90.20 414.70 A3.8 3.8 0 0 0 97.20 414.70"/><path d="M87.20 418.50 A7.8 7.8 0 0 0 100.20 418.50"/><path d="M84.25 421.90 A11.1 11.1 0 0 0 103.15 421.90"/></g>
<g fill="none" stroke="#1e1e1e" stroke-width="1.7" stroke-linecap="round" filter="url(#soft2)"><circle cx="240" cy="412.1" r="1" fill="#1e1e1e" stroke="none"/><path d="M236.50 415.50 A3.8 3.8 0 0 0 243.50 415.50"/><path d="M233.50 419.30 A7.8 7.8 0 0 0 246.50 419.30"/><path d="M230.55 422.70 A11.1 11.1 0 0 0 249.45 422.70"/></g>
<g fill="none" stroke="#1e1e1e" stroke-width="1.7" stroke-linecap="round" filter="url(#soft2)"><circle cx="354" cy="410" r="1" fill="#1e1e1e" stroke="none"/><path d="M350.50 413.40 A3.8 3.8 0 0 0 357.50 413.40"/><path d="M347.50 417.20 A7.8 7.8 0 0 0 360.50 417.20"/><path d="M344.55 420.60 A11.1 11.1 0 0 0 363.45 420.60"/></g>
<g fill="none" stroke="#1e1e1e" stroke-width="1.7" stroke-linecap="round" filter="url(#soft2)"><circle cx="497.2" cy="414.7" r="1" fill="#1e1e1e" stroke="none"/><path d="M493.70 418.10 A3.8 3.8 0 0 0 500.70 418.10"/><path d="M490.70 421.90 A7.8 7.8 0 0 0 503.70 421.90"/><path d="M487.75 425.30 A11.1 11.1 0 0 0 506.65 425.30"/></g>
<g fill="#1fa2e4" stroke="#1fa2e4" stroke-width="0.22" filter="url(#soft)" font-family="&quot;Liberation Sans&quot;, &quot;Noto Sans CJK SC&quot;, sans-serif" font-weight="bold" font-size="13"><text x="84.2" y="117.7" textLength="82" lengthAdjust="spacingAndGlyphs">星云平台统一管理</text><text x="326.4" y="108.9" textLength="71.8" lengthAdjust="spacingAndGlyphs">旗舰型融合网关</text><text x="326.8" y="181.3" textLength="71.4" lengthAdjust="spacingAndGlyphs">万兆核心交换机</text><text x="73.8" y="251.9" textLength="51.6" lengthAdjust="spacingAndGlyphs">内网服务器</text><text x="451.3" y="257.8" textLength="71.4" lengthAdjust="spacingAndGlyphs">千兆PoE交换机</text><text x="26" y="328" textLength="65.4" lengthAdjust="spacingAndGlyphs">面板及室外AP</text><text x="511.5" y="328.4" textLength="34.9" lengthAdjust="spacingAndGlyphs">吸顶AP</text><text x="479.7" y="71.3" font-size="12.3" textLength="20.4" lengthAdjust="spacingAndGlyphs">网线</text><text x="482.9" y="96.2" font-size="12" textLength="17.8" lengthAdjust="spacingAndGlyphs">PoE</text></g>
</svg>
</body></html>
